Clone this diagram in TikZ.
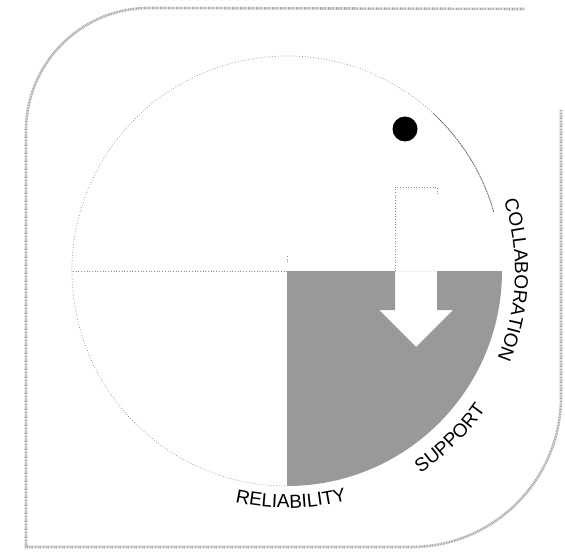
\documentclass[tikz,border=0pt]{standalone}
\usepackage{fontspec}
\setmainfont{Liberation Sans}
\usetikzlibrary{decorations.text}
\begin{document}
\begin{tikzpicture}[x=1pt,y=1pt,
  frame/.style={draw=black!35, line width=2.6pt, dash pattern=on 0.9pt off 0.7pt},
  circ/.style={draw=black!45, line width=0.7pt, dotted},
  circdark/.style={draw=black!60, line width=0.8pt, dash pattern=on 1.5pt off 0.8pt},
  shadearea/.style={fill=black!40},
  lbl/.style={decorate, decoration={text along path, text align=center, text={|\fontsize{19}{19}\selectfont|#1}}}
]
\useasboundingbox[fill=white] (0,0) rectangle (565,558);
\coordinate (O) at (287,287);
% outer frame
\draw[frame] (561,448) -- (561,161) arc[start angle=0, end angle=-90, radius=150]
  -- (26,11) -- (26,427) arc[start angle=180, end angle=90, radius=123] -- (525,549);
% shaded quadrant minus arrow
\fill[shadearea, even odd rule] (O) -- ++(0:215) arc[start angle=0, end angle=-90, radius=215] -- cycle
  (395,287) -- (395,248) -- (379,248) -- (416,211) -- (453,248) -- (437,248) -- (437,287) -- cycle;
% arrow shaft outline above centre line
\draw[circ] (395,287) -- (395,371) -- (437,371) -- (437,364);
% circle outline
\draw[circ] (O) ++(16:215) arc[start angle=16, end angle=270, radius=215];
\draw[circdark] (O) ++(16:215) arc[start angle=16, end angle=47, radius=215];
% horizontal radius and tick
\draw[circ] (O) -- ++(-215,0);
\draw[circ] (287,296) -- (287,304);
% dot
\node[circle, fill=black, minimum size=25pt, inner sep=0pt] (dot) at (405,429) {};
% labels
\path[lbl=COLLABORATION] (O) ++(32.7:228) arc[start angle=32.7, end angle=-37.3, radius=228];
\path[lbl=RELIABILITY] (O) ++(-124:237) arc[start angle=-124, end angle=-54, radius=237];
\path[lbl=SUPPORT] (O) ++(-80.7:242) arc[start angle=-80.7, end angle=-10.7, radius=242];
\end{tikzpicture}
\end{document}
